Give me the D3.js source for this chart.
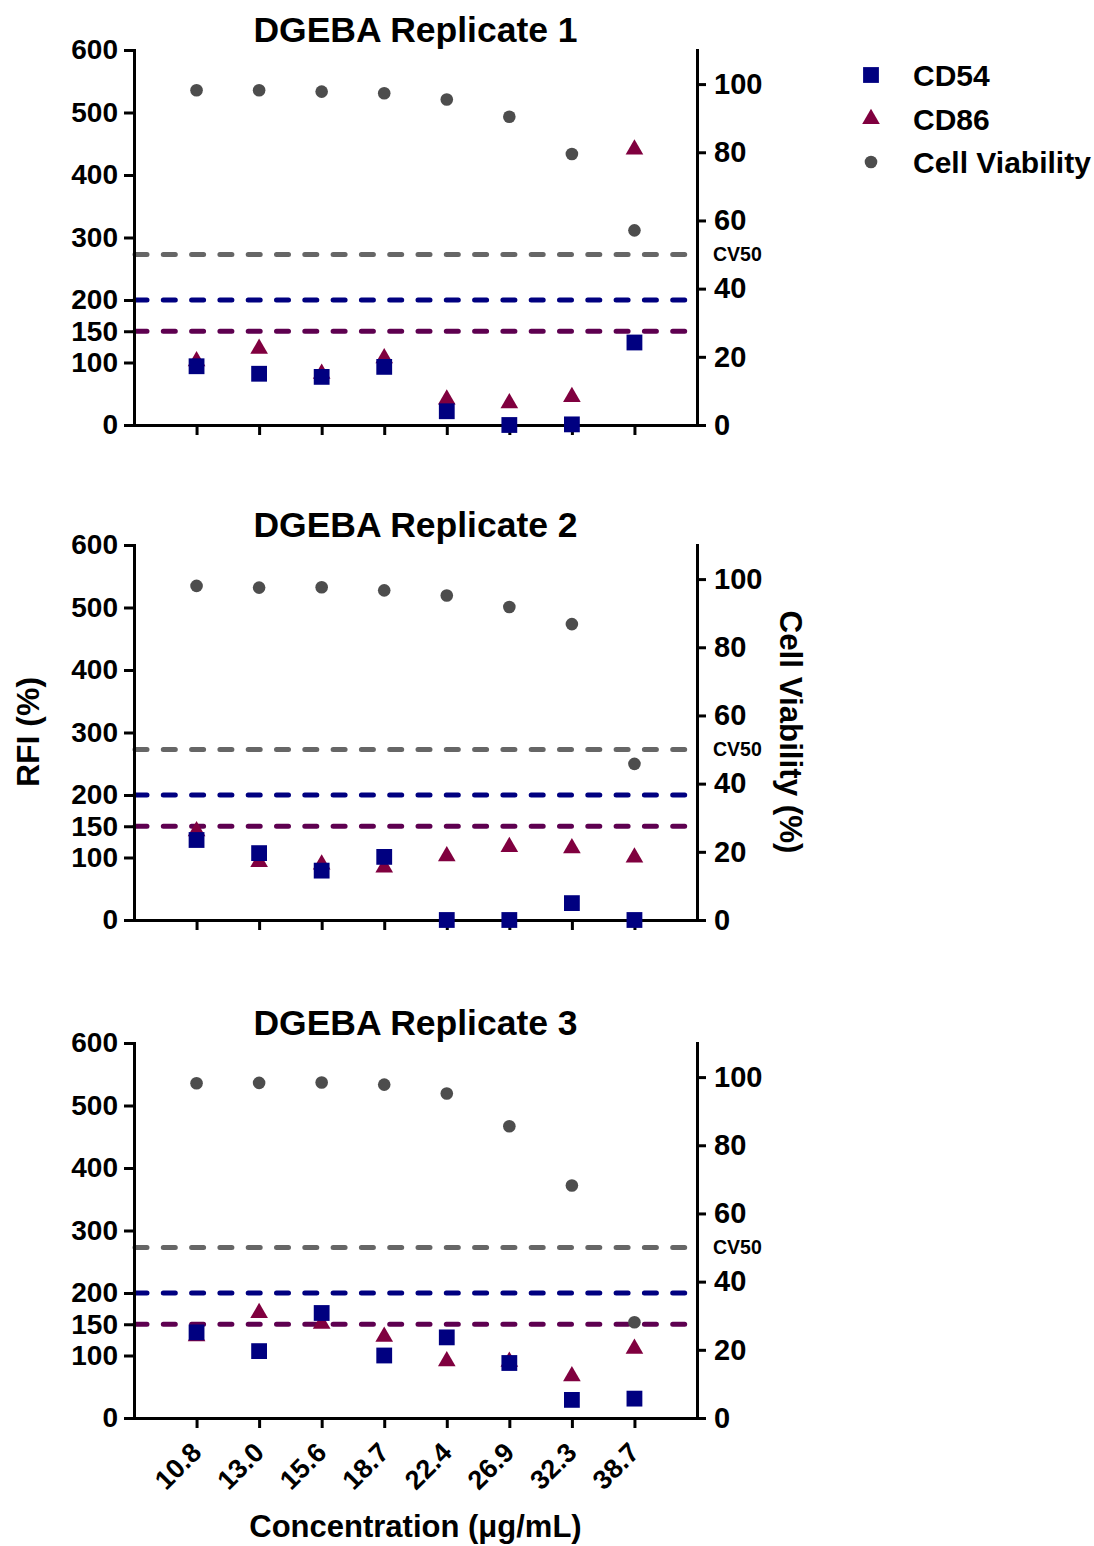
<!DOCTYPE html>
<html>
<head>
<meta charset="utf-8">
<script src="https://cdn.jsdelivr.net/npm/d3@7"></script>
<style>
  html, body { margin: 0; padding: 0; background: #fff; }
  svg text { font-family: "Liberation Sans", Arial, Helvetica, sans-serif; font-weight: bold; fill: #000; }
</style>
</head>
<body>
<svg id="chart" width="1094" height="1546"></svg>
<script>
// Concentrations tested (µg/mL)
const concentrations = ["10.8", "13.0", "15.6", "18.7", "22.4", "26.9", "32.3", "38.7"];

// Relative fluorescence intensity (%) and cell viability (%) per replicate
const cd54Rep1 = [94, 82, 77, 93, 22, 0, 1, 132];
const cd86Rep1 = [102, 122, 82, 107, 41, 35, 45, 441];
const viabilityRep1 = [98.2, 98.2, 97.8, 97.3, 95.5, 90.4, 79.5, 57.1];

const cd54Rep2 = [128, 107, 79, 101, 0, 0, 27, 0];
const cd86Rep2 = [142, 93, 89, 84, 102, 117, 115, 100];
const viabilityRep2 = [98.0, 97.5, 97.6, 96.7, 95.2, 91.8, 86.8, 45.8];

const cd54Rep3 = [137, 107, 168, 100, 129, 88, 29, 31];
const cd86Rep3 = [131, 168, 151, 130, 91, 90, 67, 111];
const viabilityRep3 = [98.2, 98.3, 98.4, 97.8, 95.2, 85.6, 68.2, 28.1];

const panelTitles = ["DGEBA Replicate 1", "DGEBA Replicate 2", "DGEBA Replicate 3"];

// Axis ticks and positivity thresholds
const rfiTicks = [0, 100, 150, 200, 300, 400, 500, 600];
const viabilityTicks = [0, 20, 40, 60, 80, 100];
const cd54Threshold = 200;
const cd86Threshold = 150;
const cv50 = 50;

const legendLabels = ["CD54", "CD86", "Cell Viability"];

const panels = [
  { title: panelTitles[0], cd54: cd54Rep1, cd86: cd86Rep1, viability: viabilityRep1 },
  { title: panelTitles[1], cd54: cd54Rep2, cd86: cd86Rep2, viability: viabilityRep2 },
  { title: panelTitles[2], cd54: cd54Rep3, cd86: cd86Rep3, viability: viabilityRep3 }
];

const colors = {
  cd54: "#000080",
  cd86: "#80003f",
  viability: "#4d4d4d",
  cd54Line: "#000080",
  cd86Line: "#5e0050",
  cvLine: "#666666"
};

const svg = d3.select("#chart");
const left = 134, right = 697, plotHeight = 375;
const panelTops = [50, 545, 1043];

const x = d3.scalePoint().domain(concentrations).range([left, right]).padding(1);

const squareSym = d3.symbol().type(d3.symbolSquare).size(250);
const triSym = d3.symbol().type(d3.symbolTriangle).size(135);

function styleAxis(g, fontSize) {
  g.attr("font-size", null).attr("font-family", null);
  g.select(".domain").attr("stroke", "#000").attr("stroke-width", 3).attr("stroke-linecap", "square");
  g.selectAll(".tick line").attr("stroke", "#000").attr("stroke-width", 3);
  g.selectAll(".tick text").style("font-size", fontSize + "px").attr("fill", "#000");
}

panels.forEach((p, i) => {
  const top = panelTops[i];
  const bottom = top + plotHeight;
  const yL = d3.scaleLinear().domain([0, 600]).range([bottom, top]);
  const yR = d3.scaleLinear().domain([0, 110]).range([bottom, top]);
  const g = svg.append("g");

  g.append("text")
    .attr("x", (left + right) / 2)
    .attr("y", top - 8)
    .attr("text-anchor", "middle")
    .style("font-size", "35.5px")
    .text(p.title);

  // Threshold lines: CV50 on the viability scale, CD54/CD86 on the RFI scale
  const refLines = [
    { y: yR(cv50), color: colors.cvLine },
    { y: yL(cd54Threshold), color: colors.cd54Line },
    { y: yL(cd86Threshold), color: colors.cd86Line }
  ];
  g.selectAll("line.ref").data(refLines).join("line")
    .attr("class", "ref")
    .attr("x1", left + 1).attr("x2", right)
    .attr("y1", d => d.y).attr("y2", d => d.y)
    .attr("stroke", d => d.color)
    .attr("stroke-width", 5)
    .attr("stroke-linecap", "round")
    .attr("stroke-dasharray", "12 16.3");

  g.append("text")
    .attr("x", right + 16)
    .attr("y", yR(cv50))
    .attr("dy", "0.35em")
    .style("font-size", "19.5px")
    .text("CV50");

  // Axes
  const axL = g.append("g").attr("transform", `translate(${left},0)`)
    .call(d3.axisLeft(yL).tickValues(rfiTicks).tickSize(10).tickSizeOuter(0).tickPadding(6));
  styleAxis(axL, 28);

  const axR = g.append("g").attr("transform", `translate(${right},0)`)
    .call(d3.axisRight(yR).tickValues(viabilityTicks).tickSize(9).tickSizeOuter(0).tickPadding(8));
  styleAxis(axR, 29);

  const xAxis = d3.axisBottom(x).tickSize(10).tickSizeOuter(0);
  if (i < panels.length - 1) xAxis.tickFormat("");
  const axB = g.append("g").attr("transform", `translate(0,${bottom})`).call(xAxis);
  styleAxis(axB, 27);
  if (i === panels.length - 1) {
    axB.selectAll(".tick text")
      .attr("text-anchor", "end")
      .attr("dy", null)
      .attr("y", null)
      .attr("transform", "translate(6,36) rotate(-45)");
  }

  // Data marks
  g.selectAll("circle.cv").data(p.viability).join("circle")
    .attr("class", "cv")
    .attr("cx", (d, j) => x(concentrations[j]))
    .attr("cy", d => yR(d))
    .attr("r", 6.3)
    .attr("fill", colors.viability);

  g.selectAll("path.cd86").data(p.cd86).join("path")
    .attr("class", "cd86")
    .attr("transform", (d, j) => `translate(${x(concentrations[j])},${yL(d)})`)
    .attr("d", triSym)
    .attr("fill", colors.cd86);

  g.selectAll("path.cd54").data(p.cd54).join("path")
    .attr("class", "cd54")
    .attr("transform", (d, j) => `translate(${x(concentrations[j])},${yL(d)})`)
    .attr("d", squareSym)
    .attr("fill", colors.cd54);
});

// Axis titles
svg.append("text")
  .attr("transform", "translate(28,732) rotate(-90)")
  .attr("text-anchor", "middle")
  .attr("dy", "0.35em")
  .style("font-size", "32px")
  .text("RFI (%)");

svg.append("text")
  .attr("transform", "translate(791,732) rotate(90)")
  .attr("text-anchor", "middle")
  .attr("dy", "0.35em")
  .style("font-size", "31.3px")
  .text("Cell Viability (%)");

svg.append("text")
  .attr("x", (left + right) / 2)
  .attr("y", 1537)
  .attr("text-anchor", "middle")
  .style("font-size", "31px")
  .text("Concentration (\u03bcg/mL)");

// Legend
const legend = svg.append("g").attr("transform", "translate(871,0)");
const legendY = [75, 119, 162];
legend.append("path").attr("transform", `translate(0,${legendY[0]})`).attr("d", squareSym).attr("fill", colors.cd54);
legend.append("path").attr("transform", `translate(0,${legendY[1]})`).attr("d", triSym).attr("fill", colors.cd86);
legend.append("circle").attr("cx", 0).attr("cy", legendY[2]).attr("r", 6.3).attr("fill", colors.viability);
legend.selectAll("text").data(legendLabels).join("text")
  .attr("x", 42)
  .attr("y", (d, k) => legendY[k])
  .attr("dy", "0.35em")
  .style("font-size", "30px")
  .text(d => d);
</script>
</body>
</html>
